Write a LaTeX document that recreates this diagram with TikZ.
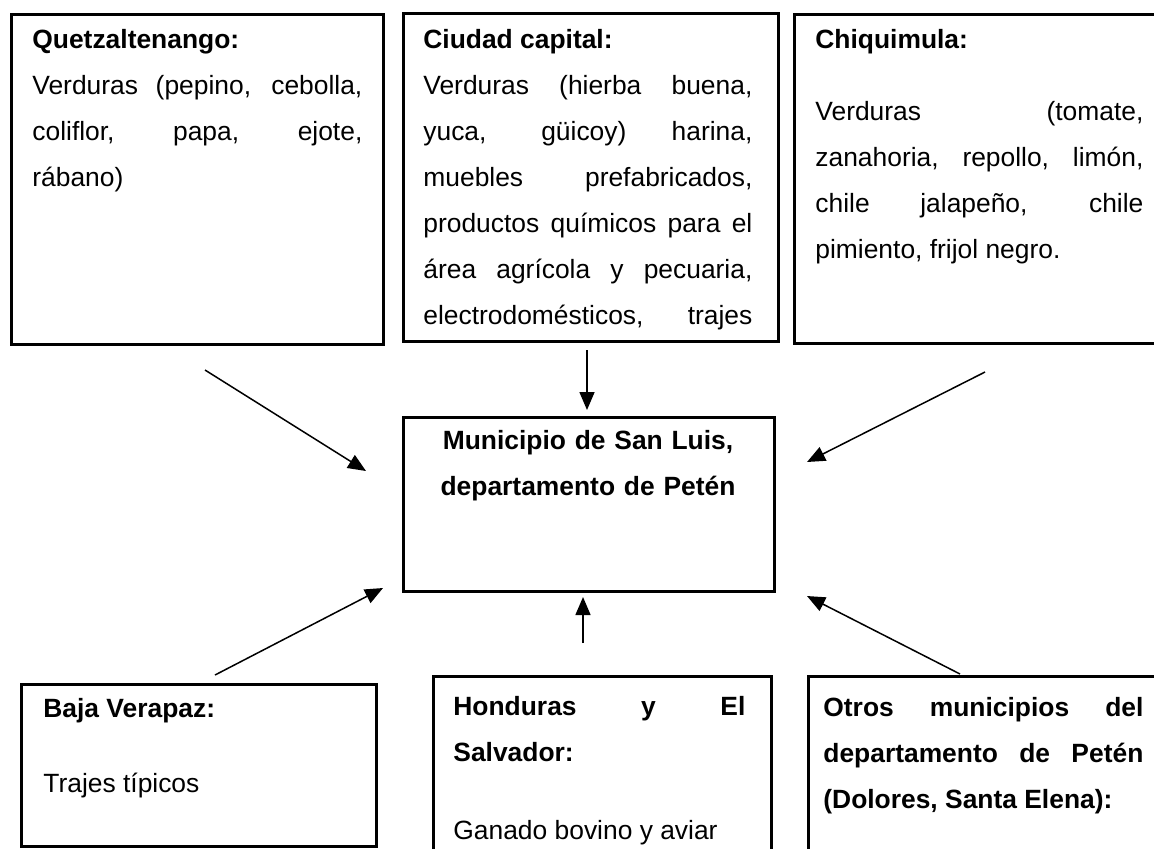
\documentclass[tikz,border=0pt]{standalone}
\usepackage{fontspec}
\setmainfont{Liberation Sans}
\usetikzlibrary{arrows.meta}
\tolerance=10000
\hyphenpenalty=10000

\tikzset{
  caja/.style 2 args={draw, line width=1.4pt, anchor=north west, inner sep=0pt,
    minimum width=#1, minimum height=#2},
  texto/.style={anchor=north west, inner sep=0pt, align=justify, text width=#1,
    font=\fontsize{13.2}{23}\selectfont, execute at begin node=\strut},
  flecha/.style={line width=0.75pt, -{Triangle[length=9pt,width=7.5pt]}}
}

\begin{document}
\begin{tikzpicture}[x=0.5pt,y=-0.5pt]
  \useasboundingbox (0,0) rectangle (1154,848);
  \fill[white] (0,0) rectangle (1154,848);
  \clip (0,0) rectangle (1154,848);
  % cajas de arriba
  \node[caja={186pt}{165pt}] (quetz) at (10,13) {};
  \node[caja={187.5pt}{164pt}] (capital) at (402,12) {};
  \node[caja={184.5pt}{164.5pt}] (chiqui) at (793,13) {};
  \node[texto=165pt] (quetz-txt) at (32,16)
    {\textbf{Quetzaltenango:}\\
     Verduras (pepino, cebolla,\linebreak coliflor, papa, ejote,\linebreak rábano)};
  \node[texto=164.5pt] (capital-txt) at (423,16)
    {\textbf{Ciudad capital:}\\
     Verduras (hierba buena,\linebreak yuca, güicoy) harina,\linebreak
     muebles prefabricados,\linebreak productos químicos para el\linebreak
     área agrícola y pecuaria,\linebreak electrodomésticos,\hfill trajes};
  \node[texto=164pt] (chiqui-txt) at (815,16)
    {\textbf{Chiquimula:}\\[13pt]
     Verduras (tomate,\linebreak zanahoria, repollo, limón,\linebreak
     chile jalapeño, chile\linebreak pimiento, frijol negro.};
  % centro
  \node[caja={185.5pt}{87pt}] (centro) at (402,416) {};
  \node[texto=185pt, align=center, anchor=north] (centro-txt) at (588,417)
    {\textbf{Municipio de San Luis,}\\\textbf{departamento de Petén}};
  % cajas de abajo
  \node[caja={177.5pt}{81pt}] (baja) at (20,683) {};
  \node[caja={169pt}{92.5pt}] (hond) at (432,675) {};
  \node[caja={179pt}{92.5pt}] (otros) at (807,675) {};
  \node[texto=160pt] (baja-txt) at (43,685)
    {\textbf{Baja Verapaz:}\\[14.5pt]
     Trajes típicos};
  \node[texto=146pt] (hond-txt) at (453,683)
    {\textbf{Honduras y El\linebreak Salvador:}\\[16pt]
     Ganado bovino y aviar};
  \node[texto=160pt] (otros-txt) at (823,684)
    {\textbf{Otros municipios del\linebreak departamento de Petén\linebreak
     (Dolores, Santa Elena):}};
  % flechas
  \coordinate (q-ini) at (205,370);
  \coordinate (q-fin) at (366,471);
  \coordinate (c-ini) at (587,350);
  \coordinate (c-fin) at (587,410);
  \coordinate (ch-ini) at (985,372);
  \coordinate (ch-fin) at (807,462);
  \coordinate (b-ini) at (215,675);
  \coordinate (b-fin) at (383,588);
  \coordinate (h-ini) at (583,643);
  \coordinate (h-fin) at (583,597);
  \coordinate (o-ini) at (960,674);
  \coordinate (o-fin) at (807,596);
  \draw[flecha] (q-ini) -- (q-fin);
  \draw[flecha] (c-ini) -- (c-fin);
  \draw[flecha] (ch-ini) -- (ch-fin);
  \draw[flecha] (b-ini) -- (b-fin);
  \draw[flecha] (h-ini) -- (h-fin);
  \draw[flecha] (o-ini) -- (o-fin);
\end{tikzpicture}
\end{document}
